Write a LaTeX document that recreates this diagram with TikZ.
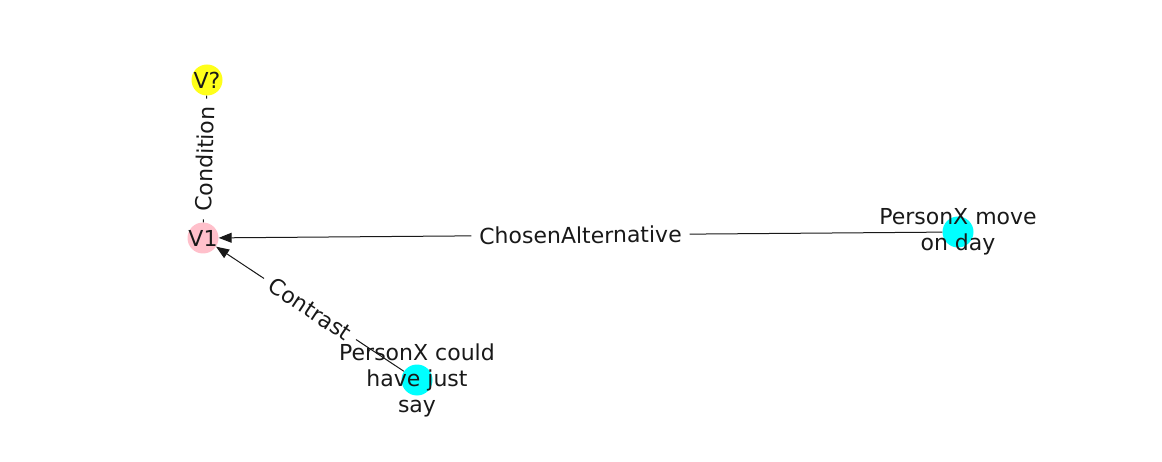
\documentclass[tikz,border=0pt]{standalone}
\usepackage{fontspec}
\setmainfont{DejaVu Sans}
\usetikzlibrary{arrows.meta,positioning}
\definecolor{nodecyan}{HTML}{00FFFF}
\definecolor{nodepink}{HTML}{FFC0CB}
\definecolor{nodeyellow}{HTML}{FFFF1A}

\begin{document}
\begin{tikzpicture}[x=1pt, y=-1pt,
        vert/.style={circle, minimum size=31pt, inner sep=0pt},
        nlabel/.style={font=\fontsize{22}{26}\selectfont, text=black!90, align=center},
        elabel/.style={font=\fontsize{22}{26}\selectfont, text=black!90, fill=white, inner xsep=8pt, inner ysep=2pt, sloped},
        rel/.style={-{Triangle[length=13pt, width=10pt]}, line width=1pt, black!90}]
        \useasboundingbox (0,0) rectangle (1162,462);

        % Nodes
        \node[vert, fill=nodeyellow] (vq) at (207,80) {};
        \node[vert, fill=nodepink] (v1) at (203,238) {};
        \node[vert, fill=nodecyan] (move) at (958,232) {};
        \node[vert, fill=nodecyan] (could) at (417,380) {};

        % Edges
        \draw[line width=1pt, black!90] (v1) -- node[elabel] {Condition} (vq);
        \draw[rel] (move) -- node[elabel] {ChosenAlternative} (v1);
        \draw[rel] (could) -- node[elabel] {Contrast} (v1);

        % Node texts
        \node[nlabel] at (vq) {V?};
        \node[nlabel] at (v1) {V1};
        \node[nlabel] at (move) {PersonX move\\on day};
        \node[nlabel] at (could) {PersonX could\\have just\\say};
\end{tikzpicture}
\end{document}
